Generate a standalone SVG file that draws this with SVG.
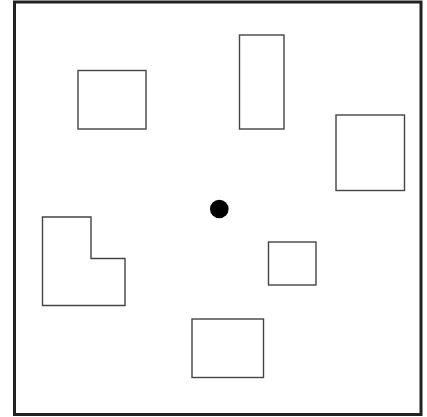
<svg xmlns="http://www.w3.org/2000/svg" width="427" height="417" viewBox="0 0 427 417">
<style>
.s{fill:#fff;stroke:#444;stroke-width:1.4}
</style>
<rect width="427" height="417" fill="#fff"/>
<g id="frame"><rect x="14.5" y="2" width="406.5" height="412.5" fill="none" stroke="#222" stroke-width="3"/></g>
<g id="r1"><rect class="s" x="78" y="70.5" width="68" height="58.5"/></g>
<g id="r2"><rect class="s" x="239.5" y="35" width="44.5" height="94"/></g>
<g id="r3"><rect class="s" x="336" y="115" width="68.5" height="75.5"/></g>
<g id="lshape"><path class="s" d="M42.5 217H91V258.5H125V305.5H42.5Z"/></g>
<g id="r4"><rect class="s" x="268.5" y="242" width="47.5" height="43"/></g>
<g id="r5"><rect class="s" x="192" y="319" width="71.5" height="58.5"/></g>
<g id="dot"><circle cx="219.3" cy="209" r="9.3" fill="#000"/></g>
</svg>
